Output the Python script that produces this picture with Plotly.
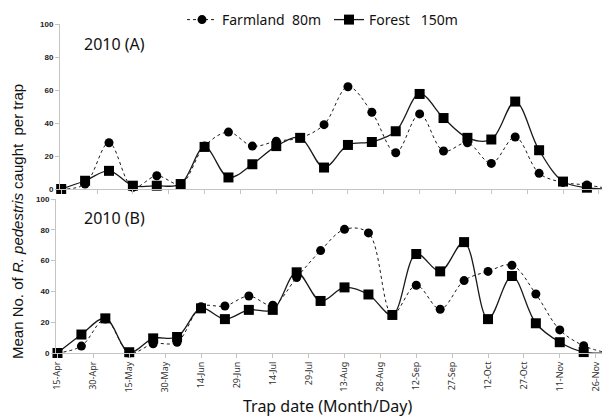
import plotly.graph_objects as go

# ---- data ----
dates = ["2010-04-15", "2010-04-25", "2010-05-05", "2010-05-15", "2010-05-25", "2010-06-04",
         "2010-06-14", "2010-06-24", "2010-07-04", "2010-07-14", "2010-07-24", "2010-08-03",
         "2010-08-13", "2010-08-23", "2010-09-02", "2010-09-12", "2010-09-22", "2010-10-02",
         "2010-10-12", "2010-10-22", "2010-11-01", "2010-11-11", "2010-11-21", "2010-12-01"]

farm_A = [0, 3, 28, 1, 8, 3, 26, 34.5, 26, 29, 31, 39, 62, 46.5, 22, 45.5, 23, 28, 15.5, 31.5, 9.5, 4, 2.4, 0]
forest_A = [0, 5, 11, 2, 2, 3, 25.5, 7, 15, 26, 31, 13, 26.7, 28.5, 35, 57.6, 43, 31, 30, 53, 23.5, 4.5, 0.8, 0]

farm_B = [0, 4.5, 22, 0, 6, 7, 30, 30.5, 37, 31, 49, 66.5, 80.3, 78, 25, 44, 28.4, 47, 53, 57, 38.3, 15, 4.7, 0]
forest_B = [0, 12, 22.5, 0.5, 9.5, 10.4, 29, 22, 28, 28, 52.4, 33.8, 42.6, 38, 24.7, 64.3, 53, 72, 22, 50, 19.3, 7, 0.6, 0]

tick_dates = ["2010-04-15", "2010-04-30", "2010-05-15", "2010-05-30", "2010-06-14", "2010-06-29",
              "2010-07-14", "2010-07-29", "2010-08-13", "2010-08-28", "2010-09-12", "2010-09-27",
              "2010-10-12", "2010-10-27", "2010-11-11", "2010-11-26"]
tick_labels = ["15-Apr", "30-Apr", "15-May", "30-May", "14-Jun", "29-Jun", "14-Jul", "29-Jul",
               "13-Aug", "28-Aug", "12-Sep", "27-Sep", "12-Oct", "27-Oct", "11-Nov", "26-Nov"]

series_names = ["Farmland  80m", "Forest   150m"]

# ---- figure ----
# the page body has an 8px margin, so the figure starts at (8, 8) in the window
OFF = 8
W, H = 610 - OFF, 419 - OFF
def fx(px): return (px - OFF) / W
def fy(py): return 1 - (py - OFF) / H

LINE = "#1a1a1a"
farm_style = dict(mode="lines+markers", line=dict(color=LINE, width=1, dash="3px,3px", shape="spline", smoothing=1),
                  marker=dict(symbol="circle", size=9, color="black"), cliponaxis=False)
forest_style = dict(mode="lines+markers", line=dict(color=LINE, width=1.3, shape="spline", smoothing=1),
                    marker=dict(symbol="square", size=10, color="black"), cliponaxis=False)

fig = go.Figure()
fig.add_trace(go.Scatter(x=dates, y=farm_A, name=series_names[0], xaxis="x2", yaxis="y2", **farm_style))
fig.add_trace(go.Scatter(x=dates, y=forest_A, name=series_names[1], xaxis="x2", yaxis="y2", **forest_style))
fig.add_trace(go.Scatter(x=dates, y=farm_B, name=series_names[0], xaxis="x", yaxis="y", showlegend=False, **farm_style))
fig.add_trace(go.Scatter(x=dates, y=forest_B, name=series_names[1], xaxis="x", yaxis="y", showlegend=False, **forest_style))

AXC = "#c4c4c4"
xcommon = dict(type="date", tickmode="array", tickvals=tick_dates, showline=True, linecolor=AXC, linewidth=1,
               ticks="outside", ticklen=4, tickcolor=AXC, showgrid=False, zeroline=False, automargin=False)
ycommon = dict(range=[0, 100], tickvals=[0, 20, 40, 60, 80, 100], showline=True, linecolor=AXC, linewidth=1,
               ticks="outside", ticklen=4, tickcolor=AXC, showgrid=False, zeroline=False, automargin=False,
               tickfont=dict(family="Liberation Sans", size=8, color="#222", weight="bold"))

fig.update_layout(
    template="none",
    width=W, height=H, margin=dict(l=0, r=0, t=0, b=0, autoexpand=False),
    paper_bgcolor="white", plot_bgcolor="white",
    showlegend=True,
    legend=dict(orientation="h", x=fx(182), y=fy(4), xanchor="left", yanchor="top",
                font=dict(family="Noto Sans", size=14, color="#111"), itemwidth=30,
                entrywidth=102, entrywidthmode="pixels",
                bgcolor="rgba(0,0,0,0)"),
    xaxis=dict(domain=[fx(56), 1.0], range=["2010-04-14 09:00", "2010-12-02 00:00"],
               ticktext=tick_labels, tickangle=-90,
               tickfont=dict(family="Noto Sans", size=9, color="#333"), anchor="y", **xcommon),
    yaxis=dict(domain=[fy(353), fy(199)], anchor="x", **ycommon),
    xaxis2=dict(domain=[fx(60), 1.0], range=["2010-04-14 12:00", "2010-11-30 16:00"],
                showticklabels=False, anchor="y2", **xcommon),
    yaxis2=dict(domain=[fy(189), fy(24)], anchor="x2", **ycommon),
    annotations=[
        dict(text="2010 (A)", x=fx(82), y=fy(44), xref="paper", yref="paper", xanchor="left", yanchor="middle",
             showarrow=False, font=dict(family="Noto Sans", size=16, color="#111")),
        dict(text="2010 (B)", x=fx(82), y=fy(218), xref="paper", yref="paper", xanchor="left", yanchor="middle",
             showarrow=False, font=dict(family="Noto Sans", size=16, color="#111")),
        dict(text="Mean No. of <i>R. pedestris</i> caught  per trap", x=fx(17), y=fy(222), xref="paper", yref="paper",
             textangle=-90, xanchor="center", yanchor="middle", showarrow=False,
             font=dict(family="Liberation Sans", size=15, color="#111")),
        dict(text="Trap date (Month/Day)", x=fx(327), y=fy(406), xref="paper", yref="paper",
             xanchor="center", yanchor="middle", showarrow=False,
             font=dict(family="Noto Sans", size=16, color="#111")),
    ],
)

fig.write_html("out.html")
